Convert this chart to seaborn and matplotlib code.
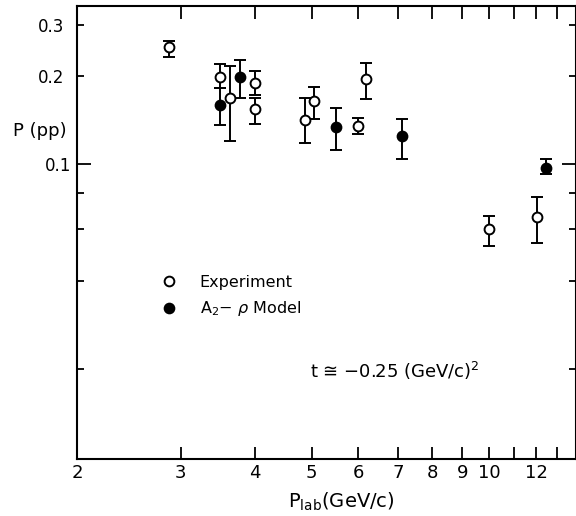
import numpy as np
import pandas as pd
import matplotlib
matplotlib.use("Agg")
import matplotlib.pyplot as plt
import seaborn as sns
from matplotlib.ticker import FixedLocator, FixedFormatter
from matplotlib.lines import Line2D

# ---- data ----
exp_x = [2.86, 3.49, 3.64, 4.0, 4.0, 4.87, 5.04, 6.0, 6.17, 9.99, 12.03]
exp_y = [0.251, 0.199, 0.169, 0.190, 0.154, 0.142, 0.165, 0.135, 0.195, 0.060, 0.066]
exp_hi = [0.264, 0.220, 0.217, 0.209, 0.169, 0.168, 0.183, 0.144, 0.222, 0.0666, 0.0775]
exp_lo = [0.233, 0.182, 0.120, 0.172, 0.137, 0.118, 0.143, 0.127, 0.167, 0.0526, 0.054]

mod_x = [3.49, 3.78, 5.50, 7.1, 12.46]
mod_y = [0.159, 0.198, 0.134, 0.125, 0.0974]
mod_hi = [0.182, 0.227, 0.156, 0.143, 0.104]
mod_lo = [0.136, 0.168, 0.112, 0.104, 0.0924]

x_ticks = [2, 3, 4, 5, 6, 7, 8, 9, 10, 11, 12, 13]
x_labels = ["2", "3", "4", "5", "6", "7", "8", "9", "10", "", "12", ""]
y_major = [0.1]
y_minor = [0.02, 0.04, 0.06, 0.08, 0.2, 0.3]
y_minor_labels = ["", "", "", "", "0.2", "0.3"]

sns.set_style("ticks")
plt.rcParams["font.family"] = ["DejaVu Sans"]
for k in ["text.color", "axes.labelcolor", "xtick.color", "ytick.color",
          "xtick.labelcolor", "ytick.labelcolor", "axes.edgecolor"]:
    plt.rcParams[k] = "black"

fig = plt.figure(figsize=(5.76, 5.16), dpi=100)
W, H = 576, 516
ax = fig.add_axes([77 / W, 57.3 / H, 498.6 / W, 453 / H])

exp_df = pd.DataFrame({"x": exp_x, "y": exp_y, "lo": exp_lo, "hi": exp_hi})
mod_df = pd.DataFrame({"x": mod_x, "y": mod_y, "lo": mod_lo, "hi": mod_hi})

ax.set_xscale("log")
ax.set_yscale("log")

for df, fc in [(exp_df, "white"), (mod_df, "black")]:
    yerr = np.vstack([df["y"] - df["lo"], df["hi"] - df["y"]])
    ax.errorbar(df["x"], df["y"], yerr=yerr, fmt="none", ecolor="black",
                elinewidth=1.4, capsize=4, capthick=1.4, zorder=2)
    sns.scatterplot(x="x", y="y", data=df, ax=ax, marker="o", s=50,
                    facecolor=fc, edgecolor="black", linewidth=1.4, zorder=3,
                    legend=False)

ax.set_xlim(2, 14)
ax.set_ylim(0.0099, 0.348)

ax.xaxis.set_major_locator(FixedLocator(x_ticks))
ax.xaxis.set_major_formatter(FixedFormatter(x_labels))
ax.xaxis.set_minor_locator(FixedLocator([]))
ax.yaxis.set_major_locator(FixedLocator(y_major))
ax.yaxis.set_major_formatter(FixedFormatter(["0.1"]))
ax.yaxis.set_minor_locator(FixedLocator(y_minor))
ax.yaxis.set_minor_formatter(FixedFormatter(y_minor_labels))

ax.tick_params(axis="x", which="major", direction="in", length=9, width=1.3,
               top=True, bottom=True, labelsize=13, pad=4, color="black")
ax.tick_params(axis="y", which="major", direction="in", length=10, width=1.3,
               left=True, right=True, labelsize=12, pad=4, color="black")
ax.tick_params(axis="y", which="minor", direction="in", length=5, width=1.3,
               left=True, right=True, labelsize=12, pad=9, color="black")

for s in ax.spines.values():
    s.set_visible(True)
    s.set_linewidth(1.5)
    s.set_color("black")

ax.set_xlabel(r"$\mathregular{P_{lab}}$(GeV/c)", fontsize=14)
ax.xaxis.label.set_verticalalignment("center")
ax.xaxis.set_label_coords(0.531, -0.096)
ax.set_ylabel("")
fig.text(13 / W, 1 - 131 / H, "P (pp)", fontsize=13, ha="left", va="center")

ax.text(4.97, 0.0197, "t ≅ −0.25 (GeV/c)$^2$", fontsize=13, ha="left", va="center")

handles = [
    Line2D([], [], marker="o", linestyle="none", markerfacecolor="white",
           markeredgecolor="black", markeredgewidth=1.4, markersize=7),
    Line2D([], [], marker="o", linestyle="none", markerfacecolor="black",
           markeredgecolor="black", markeredgewidth=1.4, markersize=7),
]
ax.legend(handles, ["Experiment", r"A$_2$$-$ $\rho$ Model"], frameon=False,
          loc="upper left", bbox_to_anchor=(0.14, 0.42), fontsize=11.5,
          handletextpad=0.9, labelspacing=0.6, borderaxespad=0)

fig.savefig("out.png", dpi=100)
